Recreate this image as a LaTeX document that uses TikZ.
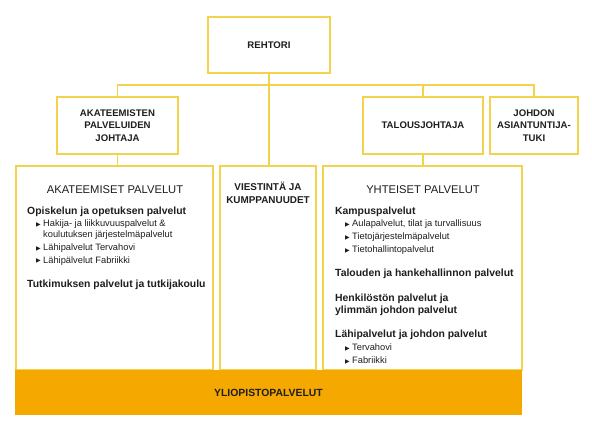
\documentclass[tikz,border=0pt]{standalone}
\usepackage{fontspec}
\setmainfont{Liberation Sans}
\newfontfamily\dejavu{DejaVu Sans}
\definecolor{lineY}{HTML}{F3D24E}
\definecolor{barO}{HTML}{F5A800}
\definecolor{txt}{HTML}{1E1E1E}
\begin{document}
\begin{tikzpicture}[x=1pt,y=-1pt,
  box/.style={draw=lineY,line width=1.3pt,fill=white,inner sep=0pt,align=center,
    font=\fontsize{9.6}{12.5}\selectfont\bfseries,text=txt},
  conn/.style={draw=lineY,line width=1.3pt},
  head/.style={font=\fontsize{11.2}{13}\selectfont,text=txt,inner sep=0pt,anchor=base},
  sub/.style={font=\fontsize{10.4}{12.5}\selectfont\bfseries,text=txt,inner sep=0pt,anchor=base west},
  item/.style={font=\fontsize{9.3}{11}\selectfont,text=txt,inner sep=0pt,anchor=base west},
  tri/.style={font=\fontsize{6}{7}\selectfont\dejavu,text=txt,inner sep=0pt,anchor=base west}
]
\useasboundingbox[fill=white] (0,0) rectangle (592,426);

% top level
\node[box,minimum width=122pt,minimum height=56pt] (reh) at (269,45) {REHTORI};
\node[box,minimum width=121pt,minimum height=57pt] (akj) at (117.5,125.5) {AKATEEMISTEN\\PALVELUIDEN\\JOHTAJA};
\node[box,minimum width=120pt,minimum height=57pt] (tj) at (423,125.5) {TALOUSJOHTAJA};
\node[box,minimum width=88pt,minimum height=57pt] (jo) at (534,125.5) {JOHDON\\ASIANTUNTIJA-\\TUKI};

% lower boxes
\node[box,minimum width=197pt,minimum height=204pt] (ap) at (114.5,268) {};
\node[box,minimum width=96pt,minimum height=204pt] (vie) at (268,268) {};
\node[box,minimum width=199pt,minimum height=204pt] (yp) at (422.5,268) {};

% connectors
\coordinate (bus) at (0,85);
\draw[conn] (akj.north) |- (bus -| jo.north) -- (jo.north);
\draw[conn] (tj.north) -- (tj.north |- bus);
\draw[conn] (reh.south) -- (reh.south |- vie.north);
\draw[conn] (akj.south) -- (akj.south |- ap.north);
\draw[conn] (tj.south) -- (tj.south |- yp.north);

% bottom bar
\node[fill=barO,minimum width=507pt,minimum height=45pt,inner sep=0pt,
  font=\fontsize{10.4}{12}\selectfont\bfseries,text=txt] (yl) at (268.5,392.5) {YLIOPISTOPALVELUT};

% AKATEEMISET PALVELUT content
\node[head] (aph) at (115,193) {AKATEEMISET PALVELUT};
\node[sub] (aps1) at (27,214) {Opiskelun ja opetuksen palvelut};
\node[tri] (apb1) at (36,226) {▶};
\node[item] (api1) at (43,226.5) {Hakija- ja liikkuvuuspalvelut \&};
\node[item] (api1b) at (43,237) {koulutuksen järjestelmäpalvelut};
\node[tri] (apb2) at (36,250) {▶};
\node[item] (api2) at (43,250.5) {Lähipalvelut Tervahovi};
\node[tri] (apb3) at (36,262.5) {▶};
\node[item] (api3) at (43,263) {Lähipälvelut Fabriikki};
\node[sub] (aps2) at (27,287) {Tutkimuksen palvelut ja tutkijakoulu};

% VIESTINTA
\node[font=\fontsize{9.9}{12.5}\selectfont\bfseries,text=txt,align=center,inner sep=0pt,anchor=north] (vt) at (268,182) {VIESTINTÄ JA\\KUMPPANUUDET};

% YHTEISET PALVELUT content
\node[head] (yph) at (423,193) {YHTEISET PALVELUT};
\node[sub] (yps1) at (335,214) {Kampuspalvelut};
\node[tri] (ypb1) at (345,226) {▶};
\node[item] (ypi1) at (352,226.5) {Aulapalvelut, tilat ja turvallisuus};
\node[tri] (ypb2) at (345,239) {▶};
\node[item] (ypi2) at (352,239.5) {Tietojärjestelmäpalvelut};
\node[tri] (ypb3) at (345,252) {▶};
\node[item] (ypi3) at (352,252.5) {Tietohallintopalvelut};
\node[sub] (yps2) at (335,276) {Talouden ja hankehallinnon palvelut};
\node[sub] (yps3) at (335,301) {Henkilöstön palvelut ja};
\node[sub] (yps3b) at (335,313.5) {ylimmän johdon palvelut};
\node[sub] (yps4) at (335,337) {Lähipalvelut ja johdon palvelut};
\node[tri] (ypb4) at (345,350) {▶};
\node[item] (ypi4) at (352,350.5) {Tervahovi};
\node[tri] (ypb5) at (345,363) {▶};
\node[item] (ypi5) at (352,363.5) {Fabriikki};
\end{tikzpicture}
\end{document}
